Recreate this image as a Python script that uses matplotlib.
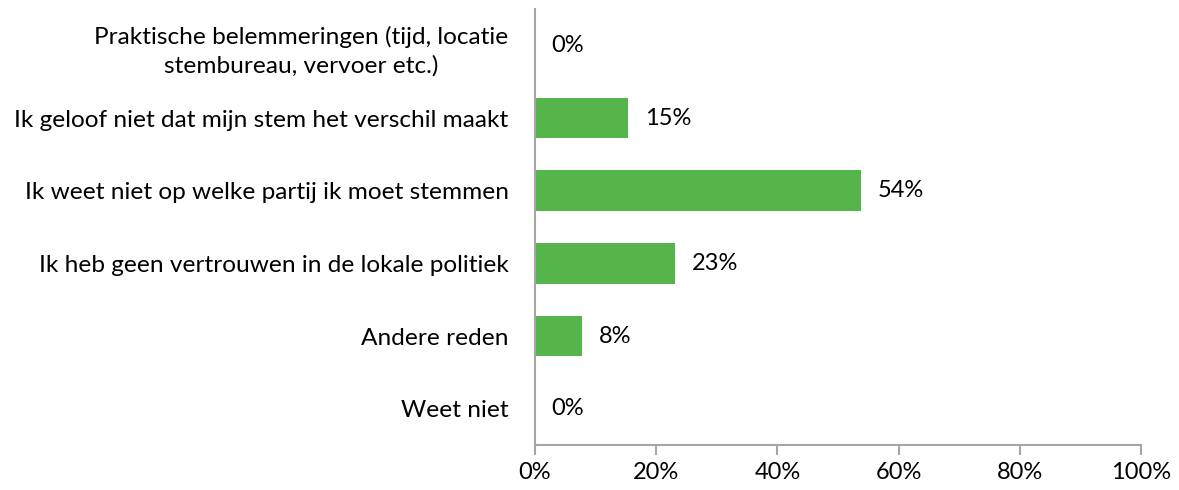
import matplotlib.pyplot as plt
from matplotlib.ticker import PercentFormatter

plt.rcParams['font.family'] = ['Lato', 'DejaVu Sans']

categories = [
    'Praktische belemmeringen (tijd, locatie\nstembureau, vervoer etc.)',
    'Ik geloof niet dat mijn stem het verschil maakt',
    'Ik weet niet op welke partij ik moet stemmen',
    'Ik heb geen vertrouwen in de lokale politiek',
    'Andere reden',
    'Weet niet',
]
values = [0, 15.4, 53.8, 23.1, 7.7, 0]
labels = ['0%', '15%', '54%', '23%', '8%', '0%']

fig = plt.figure(figsize=(11.79, 4.9), dpi=100)
ax = fig.add_axes([0.4538, 0.0918, 0.5140, 0.8898])

y = list(range(len(categories)))
ax.barh(y, values, height=0.56, color='#55B54A')
for yi, v, lab in zip(y, values, labels):
    ax.text(v + 2.8 if v > 0 else 2.7, yi, lab, va='center', ha='left', fontsize=17)

ax.set_ylim(len(categories) - 0.5, -0.5)
ax.set_xlim(0, 100)
ax.set_yticks(y)
ax.set_yticklabels(categories, fontsize=17.6, ha='right', multialignment='center',
                   linespacing=1.45)
ax.tick_params(axis='y', length=0, pad=19)
ax.set_xticks([0, 20, 40, 60, 80, 100])
ax.xaxis.set_major_formatter(PercentFormatter(decimals=0))
ax.tick_params(axis='x', labelsize=17, length=7, width=1.5, color='#A6A6A6', pad=5)

for s in ['top', 'right']:
    ax.spines[s].set_visible(False)
for s in ['left', 'bottom']:
    ax.spines[s].set_color('#A6A6A6')
    ax.spines[s].set_linewidth(1.5)

fig.savefig('out.png', dpi=100)
